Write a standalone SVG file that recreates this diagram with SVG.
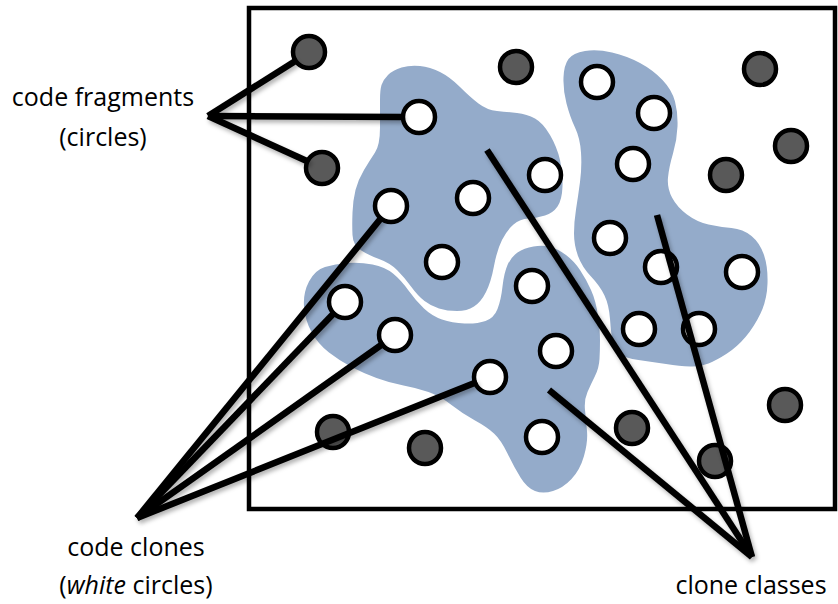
<svg xmlns="http://www.w3.org/2000/svg" width="838" height="604" viewBox="0 0 838 604">
  <style>
    .frame { fill: none; stroke: #000; stroke-width: 4.5; }
    .blob { fill: #94abca; stroke: none; }
    .frag { fill: #595959; stroke: #000; stroke-width: 4.5; }
    .clone { fill: #fff; stroke: #000; stroke-width: 4.5; }
    .lead { stroke: #000; stroke-width: 6.5; stroke-linecap: butt; fill: none; }
    .label { font-family: "Open Sans", "Liberation Sans", sans-serif; font-size: 25px; fill: #000; text-anchor: middle; }
  </style>
  <defs>
    <filter id="shadow" x="-10%" y="-10%" width="120%" height="120%">
      <feDropShadow dx="2" dy="3" stdDeviation="2" flood-color="#000" flood-opacity="0.3"/>
    </filter>
  </defs>

  <rect width="838" height="604" fill="#fff"/>

  <!-- code base -->
  <rect id="codebase" class="frame" x="249" y="8" width="586" height="501"/>

  <!-- clone classes (blue regions) -->
  <g id="class-a">
    <path class="blob" d="M381.5,85 Q383,80 388,75 Q393,70 401.5,67.5 Q410,65 420,66 Q430,67 440,72 Q450,77 460,87 Q470,97 478.5,103.5 Q487,110 497,111 Q507,112 517,113 Q527,114 535,118.5 Q543,123 550,135 Q557,147 560,160 Q563,173 562.5,186.5 Q562,200 557.5,206.5 Q553,213 545,215.5 Q537,218 528.5,218.5 Q520,219 513.5,224.5 Q507,230 502,240 Q497,250 494,266 Q491,282 486,292 Q481,302 474,306.5 Q467,311 457,311 Q447,311 439,308.5 Q431,306 424.5,301 Q418,296 411,286.5 Q404,277 397,270 Q390,263 379,259 Q368,255 360.5,250 Q353,245 352.5,235 Q352,225 352.5,212.5 Q353,200 355.5,190 Q358,180 364,170 Q370,160 375,152.5 Q380,145 380,127.5 Q380,110 380,100 Q380,90 381.5,85 Z"/>
  </g>
  <g id="class-b">
    <path class="blob" d="M309,281.5 Q315,270 325,267 Q335,264 347.5,263 Q360,262 372.5,264.5 Q385,267 393,273.5 Q401,280 408.5,290.5 Q416,301 424,308.5 Q432,316 442,319.5 Q452,323 464.5,323.5 Q477,324 485.5,321 Q494,318 497.5,309 Q501,300 502.5,286.5 Q504,273 507.5,265 Q511,257 517.5,252.5 Q524,248 533.5,246.5 Q543,245 550.5,247 Q558,249 566,255 Q574,261 580,270 Q586,279 591,290 Q596,301 598,316 Q600,330 600,340 Q600,350 599.5,359 Q599,368 595,376 Q591,384 587.5,392 Q584,400 585,410 Q586,420 587,431 Q588,442 584,456 Q580,470 571.5,479 Q563,488 553,491 Q543,494 535,491 Q527,488 520.5,477.5 Q514,467 507.5,453.5 Q501,440 494,433.5 Q487,427 475,420.5 Q463,414 451.5,405 Q440,396 428.5,392 Q417,388 403.5,385.5 Q390,383 376.5,378 Q363,373 351.5,367 Q340,361 329,352.5 Q318,344 311.5,332 Q305,320 304,306.5 Q303,293 309,281.5 Z"/>
  </g>
  <g id="class-c">
    <path class="blob" d="M568.5,59 Q573,53 585,51 Q597,49 612,52.5 Q627,56 640,63 Q653,70 662.5,80 Q672,90 675,101.5 Q678,113 677.5,126.5 Q677,140 673,153.5 Q669,167 668,177.5 Q667,188 672,197.5 Q677,207 687,214.5 Q697,222 708.5,224.5 Q720,227 731.5,228 Q743,229 751.5,236 Q760,243 764,255 Q768,267 767.5,283.5 Q767,300 760.5,313.5 Q754,327 745.5,337 Q737,347 727,353.5 Q717,360 708.5,363.5 Q700,367 690,366.5 Q680,366 666,364 Q652,362 638.5,360 Q625,358 619.5,354 Q614,350 612.5,341.5 Q611,333 610,319 Q609,305 604.5,295.5 Q600,286 591,276.5 Q582,267 578,256 Q574,245 574,233.5 Q574,222 576,209.5 Q578,197 580,182 Q582,167 581,152.5 Q580,138 575,127.5 Q570,117 566.5,103.5 Q563,90 563.5,77.5 Q564,65 568.5,59 Z"/>
  </g>

  <!-- code fragments that are not clones -->
  <g id="fragments">
    <circle class="frag" cx="309" cy="52" r="16"/>
    <circle class="frag" cx="322" cy="168" r="16"/>
    <circle class="frag" cx="516" cy="67" r="16"/>
    <circle class="frag" cx="760" cy="69" r="16"/>
    <circle class="frag" cx="791" cy="146" r="16"/>
    <circle class="frag" cx="726" cy="175" r="16"/>
    <circle class="frag" cx="333" cy="432" r="16"/>
    <circle class="frag" cx="425" cy="448" r="16"/>
    <circle class="frag" cx="632" cy="428" r="16"/>
    <circle class="frag" cx="715" cy="461" r="16"/>
    <circle class="frag" cx="785" cy="405" r="16"/>
  </g>

  <!-- code clones -->
  <g id="clones">
    <circle class="clone" cx="419" cy="117" r="16"/>
    <circle class="clone" cx="391" cy="206" r="16"/>
    <circle class="clone" cx="473" cy="198" r="16"/>
    <circle class="clone" cx="545" cy="175" r="16"/>
    <circle class="clone" cx="442" cy="262" r="16"/>
    <circle class="clone" cx="597" cy="82" r="16"/>
    <circle class="clone" cx="654" cy="113" r="16"/>
    <circle class="clone" cx="633" cy="164" r="16"/>
    <circle class="clone" cx="610" cy="238" r="16"/>
    <circle class="clone" cx="661" cy="267" r="16"/>
    <circle class="clone" cx="742" cy="272" r="16"/>
    <circle class="clone" cx="639" cy="329" r="16"/>
    <circle class="clone" cx="699" cy="329" r="16"/>
    <circle class="clone" cx="532" cy="286" r="16"/>
    <circle class="clone" cx="345" cy="302" r="16"/>
    <circle class="clone" cx="395" cy="335" r="16"/>
    <circle class="clone" cx="556" cy="351" r="16"/>
    <circle class="clone" cx="490" cy="377" r="16"/>
    <circle class="clone" cx="542" cy="437" r="16"/>
  </g>

  <!-- leader lines -->
  <g id="connectors" filter="url(#shadow)">
    <line class="lead" x1="208" y1="116" x2="297" y2="60"/>
    <line class="lead" x1="208" y1="116" x2="403" y2="117"/>
    <line class="lead" x1="208" y1="116" x2="309" y2="162"/>
    <line class="lead" x1="137" y1="518" x2="382" y2="217"/>
    <line class="lead" x1="137" y1="518" x2="335" y2="312"/>
    <line class="lead" x1="137" y1="518" x2="384" y2="343"/>
    <line class="lead" x1="137" y1="518" x2="477" y2="382"/>
    <line class="lead" x1="487" y1="150" x2="752" y2="557"/>
    <line class="lead" x1="657" y1="215" x2="752" y2="557"/>
    <line class="lead" x1="549" y1="390" x2="752" y2="557"/>
  </g>

  <!-- labels -->
  <g id="label-fragments">
    <text class="label" x="103" y="106">code fragments</text>
    <text class="label" x="103" y="146">(circles)</text>
  </g>
  <g id="label-clones">
    <text class="label" x="136" y="556">code clones</text>
    <text class="label" x="136" y="594">(<tspan font-style="italic">white</tspan> circles)</text>
  </g>
  <g id="label-classes">
    <text class="label" x="751" y="594">clone classes</text>
  </g>
</svg>
